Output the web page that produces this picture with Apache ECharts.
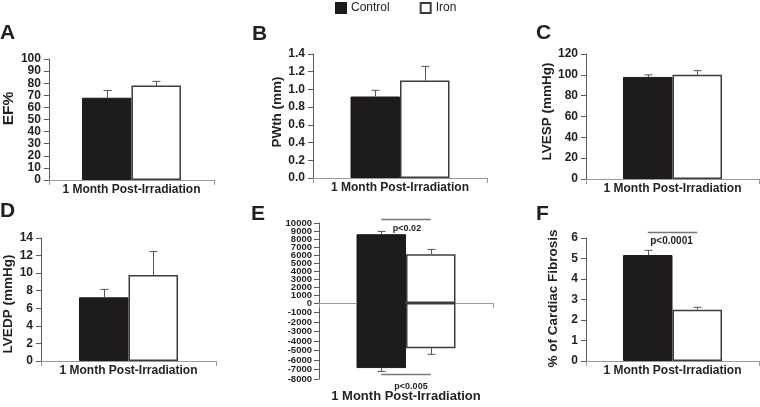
<!DOCTYPE html>
<html>
<head>
<meta charset="utf-8">
<script src="https://cdn.jsdelivr.net/npm/echarts@6/dist/echarts.min.js"></script>
<style>html,body{margin:0;padding:0;background:#fff}#c{width:760px;height:407px}</style>
</head>
<body>
<div id="c"></div>
<script>
// ---- data ----
const categories = ['1 Month Post-Irradiation'];
const groups = ['Control', 'Iron'];

const efMean = [68, 78];          const efErr = [6, 3.5];
const pwthMean = [0.92, 1.10];    const pwthErr = [0.07, 0.16];
const lvespMean = [98, 100];      const lvespErr = [2, 4];
const lvedpMean = [7.25, 9.8];    const lvedpErr = [0.9, 2.65];
const dpPosMean = [8600, 6100];   const dpPosErr = [350, 600];
const dpNegMean = [-6850, -4750]; const dpNegErr = [350, 650];
const fibMean = [5.17, 2.5];      const fibErr = [0.23, 0.12];

// axis ranges: [min, max, interval]
const efAxis = [0, 100, 10];
const pwthAxis = [0, 1.4, 0.2];
const lvespAxis = [0, 120, 20];
const lvedpAxis = [0, 14, 2];
const dpPosAxis = [0, 10000, 1000];
const dpNegAxis = [-8000, 0, 1000];
const fibAxis = [0, 6, 1];

// tick labels of panel E (dense axis, drawn in two interleaved sets)
const dpPosLabelsA = [0, 2000, 4000, 6000, 8000, 10000];
const dpPosLabelsB = [1000, 3000, 5000, 7000, 9000];
const dpNegLabelsA = [-8000, -6000, -4000, -2000];
const dpNegLabelsB = [-7000, -5000, -3000, -1000];

// significance annotations: [line value, label]
const sigPos = [[10500, 'p<0.02']];
const sigNeg = [[-7450, 'p<0.005']];
const sigFib = [[6.31, 'p<0.0001']];

const panelLetters = ['A', 'B', 'C', 'D', 'E', 'F'];
const yNames = ['EF%', 'PWth (mm)', 'LVESP (mmHg)', 'LVEDP (mmHg)', '', '% of Cardiac Fibrosis'];

// ---- layout / style ----
const FONT = 'Liberation Sans, Arial, Helvetica, sans-serif';
const BAR_W = 49.5;
const TXT = '#231f20';
const CTRL = '#1e1b1c';

const panels = [
  {grid:{left:42, top:59, width:172, height:121}, axis:efAxis, mean:efMean, err:efErr, name:yNames[0], nameSize:15.5, nameGap:28, namePad:[0,0,0,22], fmt:v=>v},
  {grid:{left:313, top:54, width:174, height:124}, axis:pwthAxis, mean:pwthMean, err:pwthErr, name:yNames[1], nameSize:13.5, nameGap:26, namePad:[0,0,0,8], fmt:v=>v.toFixed(1)},
  {grid:{left:586, top:54, width:173, height:125}, axis:lvespAxis, mean:lvespMean, err:lvespErr, name:yNames[2], nameSize:13.5, nameGap:27, namePad:[0,0,0,10], fmt:v=>v},
  {grid:{left:41, top:238, width:175, height:123}, axis:lvedpAxis, mean:lvedpMean, err:lvedpErr, name:yNames[3], nameSize:13.5, nameGap:26, namePad:[0,9,0,0], fmt:v=>v},
  {grid:{left:319, top:223, width:174, height:80}, axis:dpPosAxis, mean:dpPosMean, err:dpPosErr, name:'', small:true, labelSets:[dpPosLabelsA, dpPosLabelsB], hideCat:true, sig:sigPos, sigDy:9, sigDx:1},
  {grid:{left:319, top:303, width:174, height:76}, axis:dpNegAxis, mean:dpNegMean, err:dpNegErr, name:'', small:true, labelSets:[dpNegLabelsA, dpNegLabelsB], hideLine:true, sig:sigNeg, sigDy:12, sigDx:5, catSize:13, catMargin:11},
  {grid:{left:586, top:238, width:173, height:123}, axis:fibAxis, mean:fibMean, err:fibErr, name:yNames[5], nameSize:13.5, nameGap:26, namePad:[0,0,0,2], fmt:v=>v, sig:sigFib, sigDy:9, sigDx:-1, sigSize:10}
];

const letterPos = [[0,23],[252,24],[536,23],[0,201],[251,204],[536,204]];

const option = {
  animation: false,
  backgroundColor: '#fff',
  textStyle: {fontFamily: FONT},
  title: panelLetters.map((t, i) => ({
    text: t, left: letterPos[i][0], top: letterPos[i][1], padding: 0,
    textStyle: {fontSize: 21, fontWeight: 'bold', color: TXT, fontFamily: FONT}
  })),
  legend: {
    data: groups, left: 335, top: 2, icon: 'rect', itemWidth: 10, itemHeight: 10, itemGap: 30,
    textStyle: {fontSize: 12, color: '#222', fontFamily: FONT}, padding: 0
  },
  grid: [], xAxis: [], yAxis: [], series: []
};

const smallLabel = {fontSize: 9.5, fontWeight: 'bold', color: TXT, fontFamily: FONT, margin: 7, formatter: v => String(v)};

panels.forEach((p, i) => {
  option.grid.push(Object.assign({containLabel: false}, p.grid));
  option.xAxis.push({
    gridIndex: i, type: 'category', data: categories,
    axisLine: {show: !p.hideLine, onZero: false, lineStyle: {color: '#9a9a9a', width: 1}},
    axisTick: {show: !p.hideLine, length: 5, lineStyle: {color: '#9a9a9a'}},
    axisLabel: {show: !p.hideCat, margin: p.catMargin || 4, fontSize: p.catSize || 12, fontWeight: 'bold', color: TXT, fontFamily: FONT}
  });
  const yIndex = option.yAxis.length;
  option.yAxis.push({
    gridIndex: i, type: 'value', min: p.axis[0], max: p.axis[1], interval: p.axis[2],
    splitLine: {show: false},
    axisLine: {show: true, lineStyle: {color: '#5a5a5a', width: 1}},
    axisTick: {show: true, length: 5, lineStyle: {color: '#5a5a5a'}},
    axisLabel: p.small
      ? Object.assign({customValues: p.labelSets[0]}, smallLabel)
      : {fontSize: 12, fontWeight: 'bold', color: TXT, fontFamily: FONT, margin: 8, formatter: p.fmt},
    name: p.name, nameLocation: 'middle', nameGap: p.nameGap || 0,
    nameTextStyle: {fontSize: p.nameSize || 13, fontWeight: 'bold', color: TXT, fontFamily: FONT, padding: p.namePad || 0}
  });
  if (p.small) {
    // second, label-only axis carrying the interleaved tick labels
    option.yAxis.push({
      gridIndex: i, type: 'value', position: 'left', min: p.axis[0], max: p.axis[1], interval: p.axis[2],
      splitLine: {show: false}, axisLine: {show: false}, axisTick: {show: false},
      axisLabel: Object.assign({customValues: p.labelSets[1]}, smallLabel)
    });
  }
  groups.forEach((g, k) => {
    option.series.push({
      type: 'bar', name: g, xAxisIndex: i, yAxisIndex: yIndex,
      data: [p.mean[k]], barWidth: BAR_W, barGap: '0%',
      itemStyle: k === 0
        ? {color: CTRL, borderColor: CTRL, borderWidth: 1}
        : {color: '#ffffff', borderColor: '#3c3c3c', borderWidth: 1.5}
    });
  });
  // error bars
  option.series.push({
    type: 'custom', name: 'err' + i, xAxisIndex: i, yAxisIndex: yIndex, z: 5,
    encode: {x: 0, y: 1},
    data: groups.map((g, k) => [0, p.mean[k], p.err[k], k === 0 ? -1 : 1]),
    renderItem: (params, api) => {
      const v = api.value(1), e = api.value(2), side = api.value(3);
      const dir = v >= 0 ? 1 : -1;
      const a = api.coord([api.value(0), v]);
      const b = api.coord([api.value(0), v + dir * e]);
      const x = Math.round(a[0] + side * BAR_W / 2) + 0.5;
      const st = {stroke: '#555', lineWidth: 1};
      return {type: 'group', children: [
        {type: 'line', shape: {x1: x, y1: a[1], x2: x, y2: b[1]}, style: st},
        {type: 'line', shape: {x1: x - 4, y1: b[1], x2: x + 4, y2: b[1]}, style: st}
      ]};
    }
  });
  if (p.sig) {
    const sig = p.sig;
    option.series.push({
      type: 'custom', name: 'sig' + i, xAxisIndex: i, yAxisIndex: yIndex, z: 6, clip: false,
      encode: {x: 0, y: 1},
      data: sig.map(s => [0, s[0]]),
      renderItem: (params, api) => {
        const c = api.coord([api.value(0), api.value(1)]);
        const y = Math.round(c[1]) + 0.5;
        return {type: 'group', children: [
          {type: 'line', shape: {x1: c[0] - BAR_W / 2, y1: y, x2: c[0] + BAR_W / 2, y2: y}, style: {stroke: '#777', lineWidth: 1.5}},
          {type: 'text', style: {text: sig[params.dataIndex][1], x: c[0] + p.sigDx, y: y + p.sigDy,
            align: 'center', verticalAlign: 'middle', fill: TXT,
            font: 'bold ' + (p.sigSize || 9) + 'px ' + FONT}}
        ]};
      }
    });
  }
});

const chart = echarts.init(document.getElementById('c'), null, {renderer: 'canvas'});
chart.setOption(option);
</script>
</body>
</html>
